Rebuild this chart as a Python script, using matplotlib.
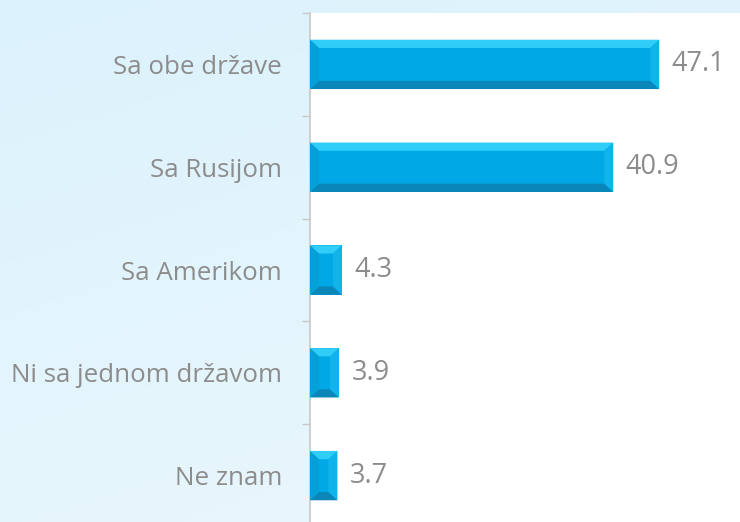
import numpy as np
import matplotlib.pyplot as plt
from matplotlib.patches import Polygon

# podaci
categories = ['Sa obe države', 'Sa Rusijom', 'Sa Amerikom', 'Ni sa jednom državom', 'Ne znam']
values = [47.1, 40.9, 4.3, 3.9, 3.7]

plt.rcParams['font.family'] = ['Open Sans', 'DejaVu Sans']
gray = '#8c8c8c'

fig = plt.figure(figsize=(7.4, 5.22), dpi=100)

# pozadina sa gradijentom
bg = fig.add_axes([0, 0, 1, 1], zorder=0)
yy, xx = np.mgrid[0:1:200j, 0:1:200j]
t = np.clip(0.45 * yy + 0.2 * xx, 0, 1)
c0 = np.array([0xdc, 0xf2, 0xfc]) / 255
c1 = np.array([0xf2, 0xfa, 0xfe]) / 255
img = c0[None, None, :] * (1 - t[..., None]) + c1[None, None, :] * t[..., None]
bg.imshow(img, aspect='auto', extent=[0, 1, 0, 1], origin='upper')
bg.axis('off')

ax = fig.add_axes([310 / 740, -5 / 522, 430 / 740, 514 / 522], zorder=1)
ax.set_facecolor('white')

y = np.arange(len(categories))
h = 0.48
bars = ax.barh(y, values, height=h, color='#00a9e6', edgecolor='none', zorder=2)

ax.set_xlim(0, 58)
ax.set_ylim(len(categories) - 0.5, -0.5)

# efekat zakošenih ivica
bx = 1.2   # u jedinicama x
by = 0.08  # u jedinicama y
for yi, v in zip(y, values):
    top, bot = yi - h / 2, yi + h / 2
    e = min(bx, v / 2)
    ax.add_patch(Polygon([[0, top], [v, top], [v - e, top + by], [e, top + by]],
                         closed=True, color='#2fcdf7', lw=0, zorder=3))
    ax.add_patch(Polygon([[0, bot], [v, bot], [v - e, bot - by], [e, bot - by]],
                         closed=True, color='#0a86b8', lw=0, zorder=3))
    ax.add_patch(Polygon([[0, top], [e, top + by], [e, bot - by], [0, bot]],
                         closed=True, color='#06a0d8', lw=0, zorder=3))
    ax.add_patch(Polygon([[v, top], [v - e, top + by], [v - e, bot - by], [v, bot]],
                         closed=True, color='#10b4ea', lw=0, zorder=3))
    ax.text(v + 1.7, yi, f'{v:.1f}', va='center', ha='left', fontsize=19.5, color=gray, zorder=4)

ax.set_yticks(y)
ax.set_yticklabels(categories, fontsize=18.6, color=gray)
ax.tick_params(axis='y', which='major', length=0, pad=20)
ax.set_yticks(np.arange(len(categories) + 1) - 0.5, minor=True)
ax.tick_params(axis='y', which='minor', length=6, color='#c8c8c8', width=1)
ax.set_xticks([])

for s in ['top', 'right', 'bottom']:
    ax.spines[s].set_visible(False)
ax.spines['left'].set_color('#c8c8c8')
ax.spines['left'].set_linewidth(1.2)

fig.savefig('out.png', dpi=100)
